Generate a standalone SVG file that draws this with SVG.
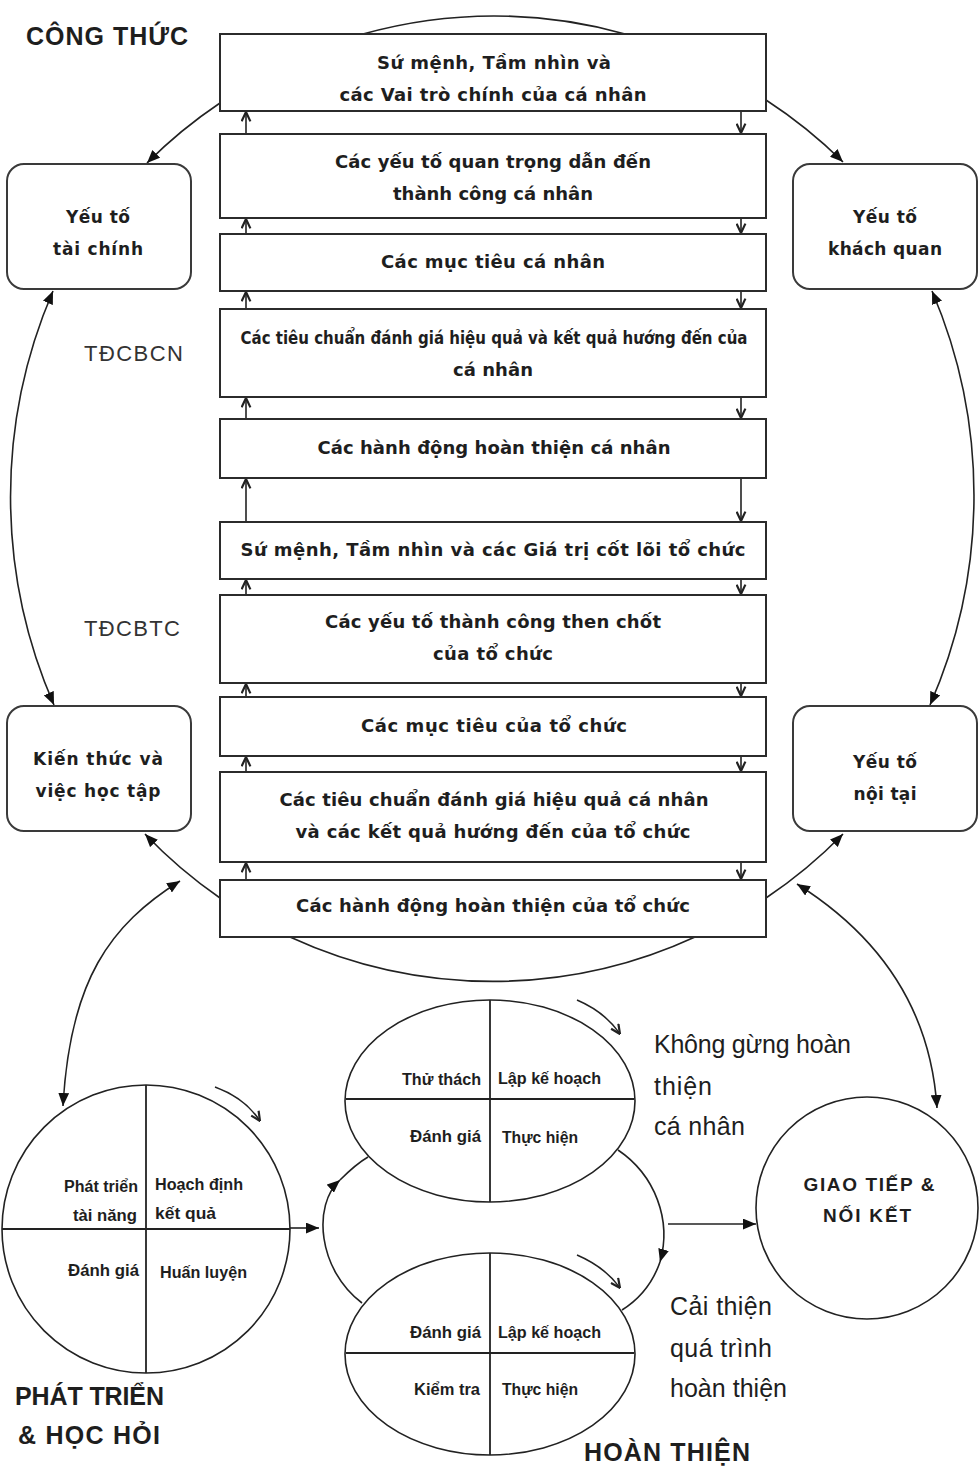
<svg xmlns="http://www.w3.org/2000/svg" width="979" height="1468" viewBox="0 0 979 1468">
  <defs>
    <style>
      .box { fill: #fff; stroke: #2b2b2b; stroke-width: 2; }
      .rbox { fill: #fff; stroke: #3a3a3a; stroke-width: 2; }
      .shape { fill: #fff; stroke: #222; stroke-width: 1.6; }
      .div { fill: none; stroke: #222; stroke-width: 1.8; }
      .link { fill: none; stroke: #222; stroke-width: 1.6; }
      .step { fill: none; stroke: #222; stroke-width: 1.6; marker-end: url(#vee); }
      .bt { font-family: "DejaVu Sans", Verdana, sans-serif; font-weight: bold; font-size: 18px; fill: #1e1e1e; text-anchor: middle; }
      .rt { font-family: "DejaVu Sans", Verdana, sans-serif; font-weight: bold; font-size: 17px; fill: #1e1e1e; text-anchor: middle; }
      .qt { font-family: "Liberation Sans", Arial, sans-serif; font-weight: bold; font-size: 16px; fill: #1e1e1e; }
      .end { text-anchor: end; }
      .big { font-family: "Liberation Sans", Arial, sans-serif; font-size: 25px; fill: #1e1e1e; }
      .head { font-family: "Liberation Sans", Arial, sans-serif; font-weight: bold; font-size: 25px; fill: #1e1e1e; }
      .abbr { font-family: "Liberation Sans", Arial, sans-serif; font-size: 22px; fill: #333; }
      .ct { font-family: "Liberation Sans", Arial, sans-serif; font-weight: bold; font-size: 19px; fill: #1e1e1e; text-anchor: middle; }
    </style>
    <marker id="vee" viewBox="0 0 10 10" refX="9.5" refY="5" markerWidth="11" markerHeight="11" markerUnits="userSpaceOnUse" orient="auto">
      <path d="M1,1 L9.5,5 L1,9" fill="none" stroke="#222" stroke-width="2"/>
    </marker>
    <marker id="tri" viewBox="0 0 12 10" refX="12" refY="5" markerWidth="13" markerHeight="11" markerUnits="userSpaceOnUse" orient="auto-start-reverse">
      <path d="M0,0 L12,5 L0,10 z" fill="#111"/>
    </marker>
  </defs>

  <rect width="979" height="1468" fill="#fff"/>

  <!-- connectors -->
  <g id="connectors">
    <!-- upward links along the left side of the stack -->
    <line class="step" x1="246" y1="134" x2="246" y2="112"/>
    <line class="step" x1="246" y1="234" x2="246" y2="219"/>
    <line class="step" x1="246" y1="309" x2="246" y2="292"/>
    <line class="step" x1="246" y1="419" x2="246" y2="398"/>
    <line class="step" x1="246" y1="522" x2="246" y2="479"/>
    <line class="step" x1="246" y1="595" x2="246" y2="580"/>
    <line class="step" x1="246" y1="697" x2="246" y2="684"/>
    <line class="step" x1="246" y1="772" x2="246" y2="757"/>
    <line class="step" x1="246" y1="880" x2="246" y2="863"/>
    <!-- downward links along the right side of the stack -->
    <line class="step" x1="741" y1="111" x2="741" y2="133"/>
    <line class="step" x1="741" y1="218" x2="741" y2="233"/>
    <line class="step" x1="741" y1="291" x2="741" y2="308"/>
    <line class="step" x1="741" y1="397" x2="741" y2="418"/>
    <line class="step" x1="741" y1="478" x2="741" y2="521"/>
    <line class="step" x1="741" y1="579" x2="741" y2="594"/>
    <line class="step" x1="741" y1="683" x2="741" y2="696"/>
    <line class="step" x1="741" y1="756" x2="741" y2="771"/>
    <line class="step" x1="741" y1="862" x2="741" y2="879"/>

    <!-- outer ring -->
    <path class="link" d="M 363 34 A 484 484 0 0 1 625 34"/>
    <path class="link" d="M 220 103 A 484 484 0 0 0 147 163" marker-end="url(#tri)"/>
    <path class="link" d="M 766 100 A 484 484 0 0 1 843 162" marker-end="url(#tri)"/>
    <path class="link" d="M 53 291 A 520 520 0 0 0 54 705" marker-start="url(#tri)" marker-end="url(#tri)"/>
    <path class="link" d="M 932 291 A 520 520 0 0 1 930 705" marker-start="url(#tri)" marker-end="url(#tri)"/>
    <path class="link" d="M 220 898 A 484 484 0 0 1 145 834" marker-end="url(#tri)"/>
    <path class="link" d="M 766 898 A 484 484 0 0 0 843 834" marker-end="url(#tri)"/>
    <path class="link" d="M 290 937 A 484 484 0 0 0 695 937"/>

    <!-- links down to the lower cycles -->
    <path class="link" d="M 180 881 C 110 925, 70 980, 63 1106" marker-start="url(#tri)" marker-end="url(#tri)"/>
    <path class="link" d="M 797 884 C 870 930, 930 1000, 937 1108" marker-start="url(#tri)" marker-end="url(#tri)"/>

    <!-- rotation hints -->
    <path class="link" d="M 215 1087 Q 245 1098 260 1121" marker-end="url(#vee)"/>
    <path class="link" d="M 577 1000 Q 605 1012 620 1034" marker-end="url(#vee)"/>
    <path class="link" d="M 577 1255 Q 605 1267 620 1288" marker-end="url(#vee)"/>

    <!-- flow between the bottom cycles -->
    <line class="link" x1="290" y1="1228" x2="319" y2="1228" marker-end="url(#tri)"/>
    <path class="link" d="M 362 1303 C 318 1270, 312 1205, 340 1180" marker-end="url(#tri)"/>
    <path class="link" d="M 340 1180 C 348 1172, 356 1164, 368 1157"/>
    <path class="link" d="M 618 1150 C 655 1175, 672 1220, 660 1262" marker-end="url(#tri)"/>
    <path class="link" d="M 660 1262 C 652 1285, 638 1300, 622 1310"/>
    <line class="link" x1="668" y1="1224" x2="756" y2="1224" marker-end="url(#tri)"/>
  </g>

  <!-- central stack -->
  <g id="box-su-menh-ca-nhan">
    <rect class="box" x="220" y="34" width="546" height="77"/>
    <text class="bt" x="494" y="69" textLength="234">Sứ mệnh, Tầm nhìn và</text>
    <text class="bt" x="493" y="101" textLength="307">các Vai trò chính của cá nhân</text>
  </g>
  <g id="box-yeu-to-quan-trong">
    <rect class="box" x="220" y="134" width="546" height="84"/>
    <text class="bt" x="493" y="168" textLength="316">Các yếu tố quan trọng dẫn đến</text>
    <text class="bt" x="493" y="200" textLength="200">thành công cá nhân</text>
  </g>
  <g id="box-muc-tieu-ca-nhan">
    <rect class="box" x="220" y="234" width="546" height="57"/>
    <text class="bt" x="493" y="268" textLength="224">Các mục tiêu cá nhân</text>
  </g>
  <g id="box-tieu-chuan-ca-nhan">
    <rect class="box" x="220" y="309" width="546" height="88"/>
    <text class="bt" x="494" y="344" textLength="507" lengthAdjust="spacingAndGlyphs">Các tiêu chuẩn đánh giá hiệu quả và kết quả hướng đến của</text>
    <text class="bt" x="493" y="376" textLength="80">cá nhân</text>
  </g>
  <g id="box-hanh-dong-ca-nhan">
    <rect class="box" x="220" y="419" width="546" height="59"/>
    <text class="bt" x="494" y="454" textLength="353">Các hành động hoàn thiện cá nhân</text>
  </g>
  <g id="box-su-menh-to-chuc">
    <rect class="box" x="220" y="522" width="546" height="57"/>
    <text class="bt" x="493" y="556" textLength="505">Sứ mệnh, Tầm nhìn và các Giá trị cốt lõi tổ chức</text>
  </g>
  <g id="box-yeu-to-then-chot">
    <rect class="box" x="220" y="595" width="546" height="88"/>
    <text class="bt" x="493" y="628" textLength="336">Các yếu tố thành công then chốt</text>
    <text class="bt" x="493" y="660" textLength="120">của tổ chức</text>
  </g>
  <g id="box-muc-tieu-to-chuc">
    <rect class="box" x="220" y="697" width="546" height="59"/>
    <text class="bt" x="494" y="732" textLength="266">Các mục tiêu của tổ chức</text>
  </g>
  <g id="box-tieu-chuan-to-chuc">
    <rect class="box" x="220" y="772" width="546" height="90"/>
    <text class="bt" x="494" y="806" textLength="429">Các tiêu chuẩn đánh giá hiệu quả cá nhân</text>
    <text class="bt" x="493" y="838" textLength="395">và các kết quả hướng đến của tổ chức</text>
  </g>
  <g id="box-hanh-dong-to-chuc">
    <rect class="box" x="220" y="880" width="546" height="57"/>
    <text class="bt" x="493" y="912" textLength="394">Các hành động hoàn thiện của tổ chức</text>
  </g>

  <!-- side factors -->
  <g id="yeu-to-tai-chinh">
    <rect class="rbox" x="7" y="164" width="184" height="125" rx="17"/>
    <text class="rt" x="98" y="223" textLength="64">Yếu tố</text>
    <text class="rt" x="98" y="255" textLength="90">tài chính</text>
  </g>
  <g id="yeu-to-khach-quan">
    <rect class="rbox" x="793" y="164" width="184" height="125" rx="17"/>
    <text class="rt" x="885" y="223" textLength="64">Yếu tố</text>
    <text class="rt" x="885" y="255" textLength="114">khách quan</text>
  </g>
  <g id="kien-thuc">
    <rect class="rbox" x="7" y="706" width="184" height="125" rx="17"/>
    <text class="rt" x="98" y="765" textLength="130">Kiến thức và</text>
    <text class="rt" x="98" y="797" textLength="125">việc học tập</text>
  </g>
  <g id="yeu-to-noi-tai">
    <rect class="rbox" x="793" y="706" width="184" height="125" rx="17"/>
    <text class="rt" x="885" y="768" textLength="64">Yếu tố</text>
    <text class="rt" x="885" y="800" textLength="63">nội tại</text>
  </g>

  <!-- stage labels -->
  <g id="labels">
    <text class="head" x="26" y="45" textLength="162">CÔNG THỨC</text>
    <text class="abbr" x="84" y="361" textLength="99">TĐCBCN</text>
    <text class="abbr" x="84" y="636" textLength="96">TĐCBTC</text>
    <text class="head" x="15" y="1405" font-size="23" textLength="149">PHÁT TRIỂN</text>
    <text class="head" x="18" y="1444" font-size="23" textLength="142">&amp;  HỌC HỎI</text>
    <text class="head" x="584" y="1461" textLength="166">HOÀN THIỆN</text>
    <text class="big" x="654" y="1053" textLength="197">Không gừng hoàn</text>
    <text class="big" x="654" y="1095" textLength="58">thiện</text>
    <text class="big" x="654" y="1135" textLength="91">cá nhân</text>
    <text class="big" x="670" y="1315" textLength="102">Cải thiện</text>
    <text class="big" x="670" y="1357" textLength="102">quá trình</text>
    <text class="big" x="670" y="1397" textLength="117">hoàn thiện</text>
  </g>

  <!-- development and learning cycle -->
  <g id="chu-trinh-phat-trien">
    <circle class="shape" cx="146" cy="1229" r="144"/>
    <line class="div" x1="146" y1="1085" x2="146" y2="1373"/>
    <line class="div" x1="2" y1="1229" x2="290" y2="1229"/>
    <text class="qt end" x="138" y="1192" textLength="74" lengthAdjust="spacingAndGlyphs">Phát triển</text>
    <text class="qt end" x="137" y="1221" textLength="64" lengthAdjust="spacingAndGlyphs">tài năng</text>
    <text class="qt" x="155" y="1190" textLength="88" lengthAdjust="spacingAndGlyphs">Hoạch định</text>
    <text class="qt" x="155" y="1219" textLength="61" lengthAdjust="spacingAndGlyphs">kết quả</text>
    <text class="qt end" x="139" y="1276" textLength="71" lengthAdjust="spacingAndGlyphs">Đánh giá</text>
    <text class="qt" x="160" y="1278" textLength="87" lengthAdjust="spacingAndGlyphs">Huấn luyện</text>
  </g>

  <!-- personal improvement cycle -->
  <g id="chu-trinh-ca-nhan">
    <ellipse class="shape" cx="490" cy="1101" rx="145" ry="101"/>
    <line class="div" x1="490" y1="1000" x2="490" y2="1202"/>
    <line class="div" x1="346" y1="1099" x2="634" y2="1099"/>
    <text class="qt end" x="481" y="1085" textLength="79" lengthAdjust="spacingAndGlyphs">Thử thách</text>
    <text class="qt" x="498" y="1084" textLength="103" lengthAdjust="spacingAndGlyphs">Lập kế hoạch</text>
    <text class="qt end" x="481" y="1142" textLength="71" lengthAdjust="spacingAndGlyphs">Đánh giá</text>
    <text class="qt" x="502" y="1143" textLength="76" lengthAdjust="spacingAndGlyphs">Thực hiện</text>
  </g>

  <!-- process improvement cycle -->
  <g id="chu-trinh-quy-trinh">
    <ellipse class="shape" cx="490" cy="1354" rx="145" ry="101"/>
    <line class="div" x1="490" y1="1253" x2="490" y2="1455"/>
    <line class="div" x1="346" y1="1353" x2="634" y2="1353"/>
    <text class="qt end" x="481" y="1338" textLength="71" lengthAdjust="spacingAndGlyphs">Đánh giá</text>
    <text class="qt" x="498" y="1338" textLength="103" lengthAdjust="spacingAndGlyphs">Lập kế hoạch</text>
    <text class="qt end" x="480" y="1395" textLength="66" lengthAdjust="spacingAndGlyphs">Kiểm tra</text>
    <text class="qt" x="502" y="1395" textLength="76" lengthAdjust="spacingAndGlyphs">Thực hiện</text>
  </g>

  <!-- communication node -->
  <g id="giao-tiep">
    <circle class="shape" cx="867" cy="1208" r="111"/>
    <text class="ct" x="869" y="1191" textLength="131">GIAO TIẾP &amp;</text>
    <text class="ct" x="867" y="1222" textLength="88">NỐI KẾT</text>
  </g>
</svg>
